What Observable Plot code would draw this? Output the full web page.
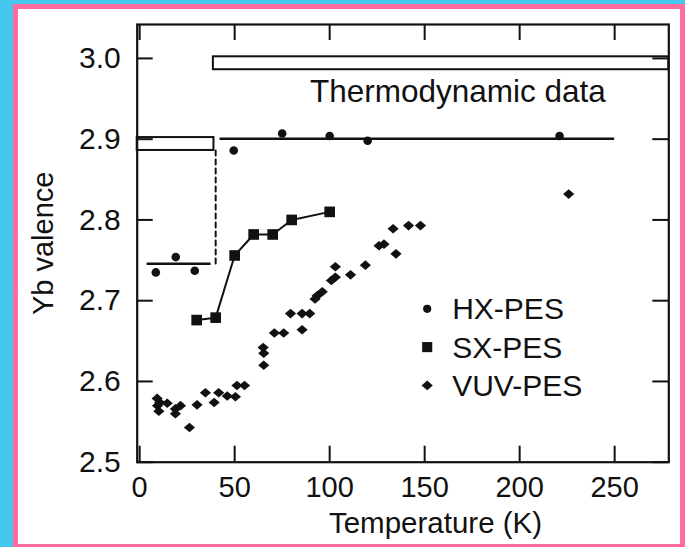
<!DOCTYPE html>
<html>
<head>
<meta charset="utf-8">
<script src="https://cdn.jsdelivr.net/npm/d3@7"></script>
<script src="https://cdn.jsdelivr.net/npm/@observablehq/plot@0.6"></script>
<style>
  html, body { margin: 0; padding: 0; }
  body { width: 685px; height: 547px; background: #46c8ee; position: relative; overflow: hidden; }
  #panel { position: absolute; left: 13px; top: 4px; right: 0; bottom: 0; background: #fff;
           border: 5px solid #ff6c9d; border-bottom-width: 3px; box-sizing: border-box; }
  #chart { position: absolute; left: 0; top: 0; }
</style>
</head>
<body>
<div id="panel"></div>
<div id="chart"></div>
<script>
// ---- data ----
const xTicks = [0, 50, 100, 150, 200, 250];
const yTicks = [2.5, 2.6, 2.7, 2.8, 2.9, 3.0];
const xLabel = "Temperature (K)";
const yLabel = "Yb valence";
const seriesNames = ["HX-PES", "SX-PES", "VUV-PES"];
const thermoLabel = "Thermodynamic data";

// HX-PES (circles)
const hxT = [8.5, 19, 29, 49.5, 75, 100, 120, 221];
const hxV = [2.735, 2.754, 2.737, 2.886, 2.907, 2.904, 2.898, 2.904];

// SX-PES (squares, connected)
const sxT = [30, 40, 50, 60, 70, 80, 100];
const sxV = [2.676, 2.679, 2.756, 2.782, 2.782, 2.800, 2.810];

// VUV-PES (diamonds)
const vuvT = [9.2, 10.6, 9.4, 10.1, 14.5, 18.8, 21.5, 18.8, 26.2, 30.2, 34.6, 39.2, 41.6, 46.1, 50.4, 51.2, 55.2,
              65.0, 65.3, 65.3, 70.9, 75.8, 85.5, 79.4, 85.5, 89.5, 92.3, 93.4, 96.1, 100.9, 103.0, 103.0, 111.0,
              118.8, 126.0, 128.6, 134.9, 133.4, 141.5, 147.8, 225.8];
const vuvV = [2.579, 2.574, 2.570, 2.563, 2.573, 2.566, 2.570, 2.560, 2.543, 2.571, 2.586, 2.574, 2.586, 2.582, 2.581, 2.595, 2.595,
              2.642, 2.635, 2.620, 2.660, 2.660, 2.664, 2.684, 2.684, 2.684, 2.702, 2.706, 2.711, 2.725, 2.729, 2.742, 2.732,
              2.744, 2.768, 2.770, 2.758, 2.789, 2.793, 2.793, 2.832];

// Thermodynamic data bands (temperature range, valence range)
const thermoT1 = [-1.3, 38.8];
const thermoT2 = [39.1, 278.5];
const thermoV1 = [2.886, 2.986];
const thermoV2 = [2.902, 3.002];

// HX-PES guide lines
const guideT1 = [3.9, 42.3];
const guideT2 = [37.6, 250];
const guideV = [2.7457, 2.9005];
const jumpT = [40, 40];
const jumpV = [2.886, 2.7457];

// ---- build ----
const xDomain = [-1.3, 278.5];
const yDomain = [2.5, 3.042];
const W = 685, H = 547;
const mL = 136.7, mR = 16.7, mT = 24, mB = 85.3;
const frameW = W - mL - mR, frameH = H - mT - mB;
const tickLen = 16;
const FS = 29;
const ink = "#111";

const diamond = {
  draw(ctx) {
    const w = 5.6, h = 4.8;
    ctx.moveTo(-w, 0); ctx.lineTo(0, -h); ctx.lineTo(w, 0); ctx.lineTo(0, h); ctx.closePath();
  }
};
const symbols = ["circle", "square", diamond];
const radii = [4.3, 6.0, 5];

const hx = hxT.map((t, i) => ({t, v: hxV[i]}));
const sx = sxT.map((t, i) => ({t, v: sxV[i]}));
const vuv = vuvT.map((t, i) => ({t, v: vuvV[i]}));
const thermo = thermoT1.map((t, i) => ({x1: t, x2: thermoT2[i], y1: thermoV1[i], y2: thermoV2[i]}));
const guides = guideT1.map((t, i) => ({x1: t, x2: guideT2[i], y: guideV[i]}));
const jump = jumpT.map((t, i) => ({t, v: jumpV[i]}));

const marks = [
  Plot.rect(thermo, {x1: "x1", x2: "x2", y1: "y1", y2: "y2", fill: "white", stroke: ink, strokeWidth: 2}),
  Plot.ruleY(guides, {x1: "x1", x2: "x2", y: "y", stroke: ink, strokeWidth: 2.4}),
  Plot.line(jump, {x: "t", y: "v", stroke: ink, strokeWidth: 2, strokeDasharray: "5,4"}),
  Plot.line(sx, {x: "t", y: "v", stroke: ink, strokeWidth: 2}),
  Plot.dot(hx, {x: "t", y: "v", symbol: symbols[0], r: radii[0], fill: ink, stroke: "none"}),
  Plot.dot(sx, {x: "t", y: "v", symbol: symbols[1], r: radii[1], fill: ink, stroke: "none"}),
  Plot.dot(vuv, {x: "t", y: "v", symbol: symbols[2], r: radii[2], fill: ink, stroke: "none"}),
  Plot.text([thermoLabel], {x: 167.5, y: 2.9585, text: d => d, textAnchor: "middle", lineAnchor: "middle", fontSize: 31.5, fill: ink}),
  Plot.frame({stroke: ink, strokeWidth: 2.2}),
  Plot.tickX(xTicks, {x: d => d, insetTop: frameH - tickLen, stroke: ink, strokeWidth: 2}),
  Plot.tickX(xTicks, {x: d => d, insetBottom: frameH - tickLen, stroke: ink, strokeWidth: 2}),
  Plot.tickY(yTicks, {y: d => d, insetRight: frameW - tickLen, stroke: ink, strokeWidth: 2}),
  Plot.tickY(yTicks, {y: d => d, insetLeft: frameW - tickLen, stroke: ink, strokeWidth: 2}),
  Plot.axisX({ticks: xTicks, tickSize: 0, tickPadding: 14, label: null, fontSize: FS}),
  Plot.axisY({ticks: yTicks, tickSize: 0, tickPadding: 16.5, tickFormat: d3.format(".1f"), label: null, fontSize: 30}),
  Plot.text([xLabel], {frameAnchor: "bottom", dx: 32.5, dy: 61, text: d => d, textAnchor: "middle", lineAnchor: "middle", fontSize: 29.5, fill: ink}),
  Plot.text([yLabel], {frameAnchor: "left", dx: -93.7, text: d => d, rotate: -90, textAnchor: "middle", lineAnchor: "middle", fontSize: FS, fill: ink})
];

seriesNames.forEach((name, i) => {
  const dy = 284.3 + i * 38.3;
  marks.push(Plot.dot([name], {frameAnchor: "top-left", dx: 290, dy, symbol: symbols[i], r: radii[i] * 0.95, fill: ink, stroke: "none"}));
  marks.push(Plot.text([name], {frameAnchor: "top-left", dx: 315, dy: dy + 1, text: d => d, textAnchor: "start", lineAnchor: "middle", fontSize: 30, fill: ink}));
});

const chart = Plot.plot({
  width: W, height: H,
  marginLeft: mL, marginRight: mR, marginTop: mT, marginBottom: mB,
  x: {domain: xDomain},
  y: {domain: yDomain},
  style: {background: "transparent", fontFamily: "'Liberation Sans', Arial, Helvetica, sans-serif", fontSize: FS + "px", color: ink, overflow: "visible"},
  marks
});
document.getElementById("chart").appendChild(chart);
</script>
</body>
</html>
